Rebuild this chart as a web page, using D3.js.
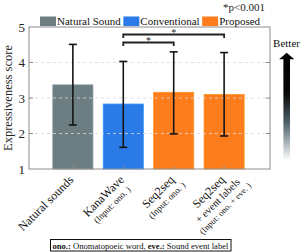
<!DOCTYPE html>
<html lang="en">
<head>
  <meta charset="UTF-8">
  <title>Expressiveness score</title>
  <script src="https://d3js.org/d3.v7.min.js"></script>
  <style>
    body { margin: 0; background: #fff; }
    svg { display: block; font-family: "Liberation Serif", "DejaVu Serif", serif; }
    .frame { fill: none; stroke: #8c8c8c; stroke-width: 1; }
    .grid line { stroke: #d8d8d8; stroke-dasharray: 3,3; stroke-width: 1; }
    .err { stroke: #151515; stroke-width: 1.6; }
    .sig { stroke: #222; stroke-width: 1.8; fill: none; }
  </style>
</head>
<body>
  <svg width="302" height="252"></svg>
  <script>
    const labelLines = [
      ["Natural sounds"],
      ["KanaWave", "(Input: ono. )"],
      ["Seq2seq", "(Input: ono. )"],
      ["Seq2seq", "+ event labels", "(Input: ono. + eve. )"]
    ];
    const groups = ["Natural Sound", "Conventional", "Proposed", "Proposed"];
    const means = [3.37, 2.83, 3.16, 3.10];
    const errLow = [2.24, 1.61, 1.99, 1.93];
    const errHigh = [4.51, 4.03, 4.30, 4.28];
    const legendNames = ["Natural Sound", "Conventional", "Proposed"];
    const legendColors = ["#6d7e83", "#2a7ae8", "#fd7c1c"];
    const yTicks = [1, 2, 3, 4, 5];
    const gridTicks = [2, 3, 4];
    const sigPairs = [[1, 3], [1, 2]];

    const svg = d3.select("svg");
    const plot = {left: 29, right: 270, top: 27, bottom: 169};

    const x = d3.scaleLinear().domain([-0.87, 3.91]).range([plot.left, plot.right]);
    const y = d3.scaleLinear().domain([1, 5]).range([plot.bottom, plot.top]);
    const color = d3.scaleOrdinal().domain(legendNames).range(legendColors);
    const barW = x(0.795) - x(0);

    // gradient for the "Better" arrow
    const grad = svg.append("defs").append("linearGradient")
      .attr("id", "better").attr("x1", 0).attr("y1", 0).attr("x2", 0).attr("y2", 1);
    [[0, "#000"], [0.38, "#080808"], [0.66, "#4f6269"], [1, "#f6f8f9"]].forEach(s =>
      grad.append("stop").attr("offset", s[0]).attr("stop-color", s[1]));

    // bars
    svg.selectAll(".bar").data(means).enter().append("rect")
      .attr("class", "bar")
      .attr("x", (d, i) => x(i) - barW / 2)
      .attr("y", d => y(d))
      .attr("width", barW)
      .attr("height", d => y(1) - y(d))
      .attr("fill", (d, i) => color(groups[i]))
      .attr("stroke", (d, i) => d3.color(color(groups[i])).brighter(0.5))
      .attr("stroke-width", 0.8);

    // dashed grid drawn on top
    svg.append("g").attr("class", "grid").attr("opacity", 0.8)
      .selectAll("line").data(gridTicks).enter().append("line")
      .attr("x1", plot.left).attr("x2", plot.right)
      .attr("y1", d => y(d)).attr("y2", d => y(d));

    // error bars
    const eb = svg.append("g");
    means.forEach((m, i) => {
      const cx = x(i);
      eb.append("line").attr("class", "err").attr("x1", cx).attr("x2", cx)
        .attr("y1", y(errLow[i])).attr("y2", y(errHigh[i]));
      [errLow[i], errHigh[i]].forEach(v =>
        eb.append("line").attr("class", "err").attr("x1", cx - 4).attr("x2", cx + 4)
          .attr("y1", y(v)).attr("y2", y(v)));
    });

    // frame and ticks
    svg.append("rect").attr("class", "frame")
      .attr("x", plot.left).attr("y", plot.top)
      .attr("width", plot.right - plot.left).attr("height", plot.bottom - plot.top);
    const tk = svg.append("g").attr("stroke", "#8c8c8c");
    means.forEach((m, i) => tk.append("line")
      .attr("x1", x(i)).attr("x2", x(i)).attr("y1", plot.bottom).attr("y2", plot.bottom - 3));
    gridTicks.forEach(v => {
      tk.append("line").attr("x1", plot.right).attr("x2", plot.right - 4).attr("y1", y(v)).attr("y2", y(v));
      tk.append("line").attr("x1", plot.left).attr("x2", plot.left + 4).attr("y1", y(v)).attr("y2", y(v));
    });

    svg.append("g").selectAll("text").data(yTicks).enter().append("text")
      .attr("x", plot.left - 4).attr("y", d => y(d) + 4.5)
      .attr("text-anchor", "end").attr("font-size", 13).attr("fill", "#222")
      .text(d => d);

    svg.append("text")
      .attr("transform", `translate(12,${(plot.top + plot.bottom) / 2}) rotate(-90)`)
      .attr("text-anchor", "middle").attr("font-size", 12.5).attr("fill", "#222")
      .text("Expressiveness score");

    // rotated category labels: first line ends at the tick, other lines centred on it
    labelLines.forEach((lines, i) => {
      const g = svg.append("g")
        .attr("transform", `translate(${x(i) - 5.4},173.6) rotate(-45)`);
      const sizes = lines.map(t => t.startsWith("(") ? (t.length > 16 ? 8.6 : 9) : t.startsWith("+") ? 10.5 : 12);
      const texts = lines.map((t, j) => g.append("text")
        .attr("font-size", sizes[j]).attr("fill", "#111")
        .attr("text-anchor", "middle").text(t));
      const w1 = texts[0].node().getComputedTextLength();
      let yy = 0;
      texts.forEach((t, j) => {
        yy += j === 0 ? sizes[0] * 0.8 : sizes[j - 1] * 0.5 + sizes[j] * 0.6;
        t.attr("x", -w1 / 2).attr("y", yy);
      });
    });

    // significance brackets
    const sigY = [34.5, 42.5];
    sigPairs.forEach((p, k) => {
      const x1 = x(p[0]), x2 = x(p[1]), yy = sigY[k];
      svg.append("path").attr("class", "sig")
        .attr("d", `M${x1},${yy + 3.5}V${yy}H${x2}V${yy + 3.5}`);
      svg.append("text").attr("x", (x1 + x2) / 2).attr("y", yy + 1.8)
        .attr("text-anchor", "middle").attr("font-size", 10).attr("fill", "#222").text("*");
    });

    svg.append("text").attr("x", 265).attr("y", 11).attr("text-anchor", "end")
      .attr("font-size", 11).attr("fill", "#222").text("*p<0.001");

    // legend
    const lg = svg.append("g");
    let lx = 40;
    legendNames.forEach((n, i) => {
      lg.append("rect").attr("x", lx).attr("y", 16.5).attr("width", 16).attr("height", 9.5)
        .attr("fill", legendColors[i]);
      const t = lg.append("text").attr("x", lx + 17).attr("y", 25).attr("font-size", 11)
        .attr("fill", "#111").text(n);
      lx += 17 + t.node().getComputedTextLength() + 2.5;
    });

    // "Better" arrow
    svg.append("text").attr("x", 286.5).attr("y", 46.5).attr("text-anchor", "middle")
      .attr("font-size", 11).attr("fill", "#111").text("Better");
    svg.append("path").attr("fill", "url(#better)")
      .attr("d", "M286.7,52.7L294.3,59.3H290V159H283.4V59.3H279.1Z");

    // footer note
    const note = svg.append("text").attr("x", 52.5).attr("y", 248.5)
      .attr("font-size", 8.6).attr("fill", "#111");
    note.append("tspan").attr("font-weight", "bold").text("ono.:");
    note.append("tspan").text(" Onomatopoeic word, ");
    note.append("tspan").attr("font-weight", "bold").text("eve.:");
    note.append("tspan").text(" Sound event label");
    const nb = note.node().getBBox();
    svg.append("rect").attr("x", 50.5).attr("y", 239.5)
      .attr("width", nb.width + 4).attr("height", 11.5)
      .attr("fill", "none").attr("stroke", "#111").attr("stroke-width", 1);
  </script>
</body>
</html>
